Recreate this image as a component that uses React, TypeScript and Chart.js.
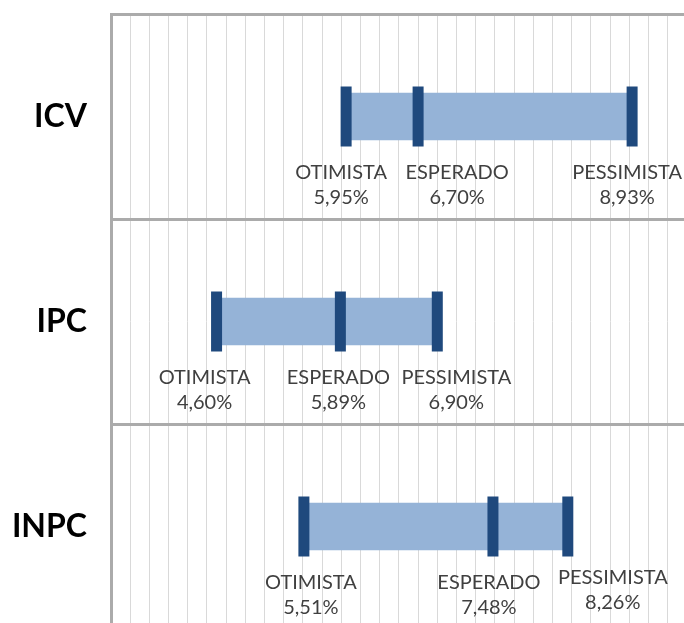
import { useEffect, useRef } from "react";
import { Chart, registerables } from "chart.js";

Chart.register(...registerables);

// ---- data ----
const categories = ["ICV", "IPC", "INPC"];
const otimista = [5.95, 4.6, 5.51];
const esperado = [6.7, 5.89, 7.48];
const pessimista = [8.93, 6.9, 8.26];
const scenarioNames = ["OTIMISTA", "ESPERADO", "PESSIMISTA"];
const axisMin = 3.5;
const axisMax = 9.7;
const axisStep = 0.2;

// ---- label layout tweaks (per scenario, per category), pixels ----
const labelDx = [
  [-5, -12, 7],
  [39, -2, -4],
  [-5, 19, 45],
];
const labelDy = [
  [0, 0, 0],
  [0, 0, 0],
  [0, 0, -5],
];

const fmt = (v: number) => v.toFixed(2).replace(".", ",") + "%";

const labelPlugin = {
  id: "scenarioLabels",
  afterDatasetsDraw(chart: any) {
    const ctx = chart.ctx;
    ctx.save();
    ctx.font = "20px Lato";
    ctx.fillStyle = "#404040";
    ctx.textAlign = "center";
    ctx.textBaseline = "middle";
    [1, 2, 3].forEach((di, s) => {
      const meta = chart.getDatasetMeta(di);
      const vals = chart.data.datasets[di].data as number[];
      meta.data.forEach((pt: any, j: number) => {
        const x = pt.x + labelDx[s][j];
        const y = pt.y + 56 + labelDy[s][j];
        ctx.fillText(scenarioNames[s], x, y);
        ctx.fillText(fmt(vals[j]), x, y + 25);
      });
    });
    ctx.restore();
  },
};

export default function App() {
  const ref = useRef<HTMLCanvasElement | null>(null);

  useEffect(() => {
    if (!ref.current) return;
    const markerDs = (label: string, data: number[]) => ({
      type: "line" as const,
      label,
      data,
      showLine: false,
      pointStyle: "line" as const,
      pointRotation: 90,
      pointRadius: 30,
      pointHoverRadius: 30,
      pointBorderWidth: 11,
      pointHoverBorderWidth: 11,
      pointBorderColor: "#1F497D",
      pointBackgroundColor: "#1F497D",
      borderColor: "#1F497D",
      clip: false,
      order: 1,
    });
    const chart = new Chart(ref.current, {
      type: "bar",
      data: {
        labels: categories,
        datasets: [
          {
            type: "bar",
            label: "Intervalo",
            data: categories.map((_, i) => [otimista[i], pessimista[i]]) as any,
            backgroundColor: "#95B3D7",
            borderWidth: 0,
            barThickness: 47,
            order: 2,
          },
          markerDs("OTIMISTA", otimista),
          markerDs("ESPERADO", esperado),
          markerDs("PESSIMISTA", pessimista),
        ] as any,
      },
      options: {
        indexAxis: "y",
        responsive: false,
        animation: false,
        events: [],
        layout: {
          autoPadding: false,
          padding: { top: 14, left: 0, right: 0, bottom: 0 },
        },
        plugins: {
          legend: { display: false },
          tooltip: { enabled: false },
        },
        scales: {
          x: {
            type: "linear",
            position: "bottom",
            min: axisMin,
            max: axisMax,
            ticks: { display: false, stepSize: axisStep, autoSkip: false },
            grid: { color: "#d9d9d9", lineWidth: 1, drawTicks: false },
            border: { display: false },
            afterFit: (scale: any) => {
              scale.height = 0;
              scale.paddingLeft = 0;
              scale.paddingRight = 0;
              scale.paddingTop = 0;
              scale.paddingBottom = 0;
            },
          },
          y: {
            type: "category",
            position: "left",
            offset: true,
            ticks: {
              color: "#000000",
              font: { family: "Lato", size: 32, weight: "bold" },
              padding: 24,
              crossAlign: "near",
            },
            grid: {
              offset: true,
              color: "#ababab",
              lineWidth: 3,
              drawTicks: false,
              z: 1,
            },
            border: { display: true, color: "#ababab", width: 3, z: 1 },
            afterFit: (scale: any) => {
              scale.width = 111;
              scale.paddingTop = 0;
              scale.paddingBottom = 0;
              scale.paddingLeft = 0;
              scale.paddingRight = 0;
            },
          },
        },
      } as any,
      plugins: [labelPlugin],
    });
    return () => chart.destroy();
  }, []);

  return (
    <div
      style={{
        position: "absolute",
        left: 0,
        top: 0,
        width: 684,
        height: 623,
        overflow: "hidden",
        background: "#ffffff",
      }}
    >
      <canvas ref={ref} width={706} height={629} style={{ display: "block" }} />
    </div>
  );
}
